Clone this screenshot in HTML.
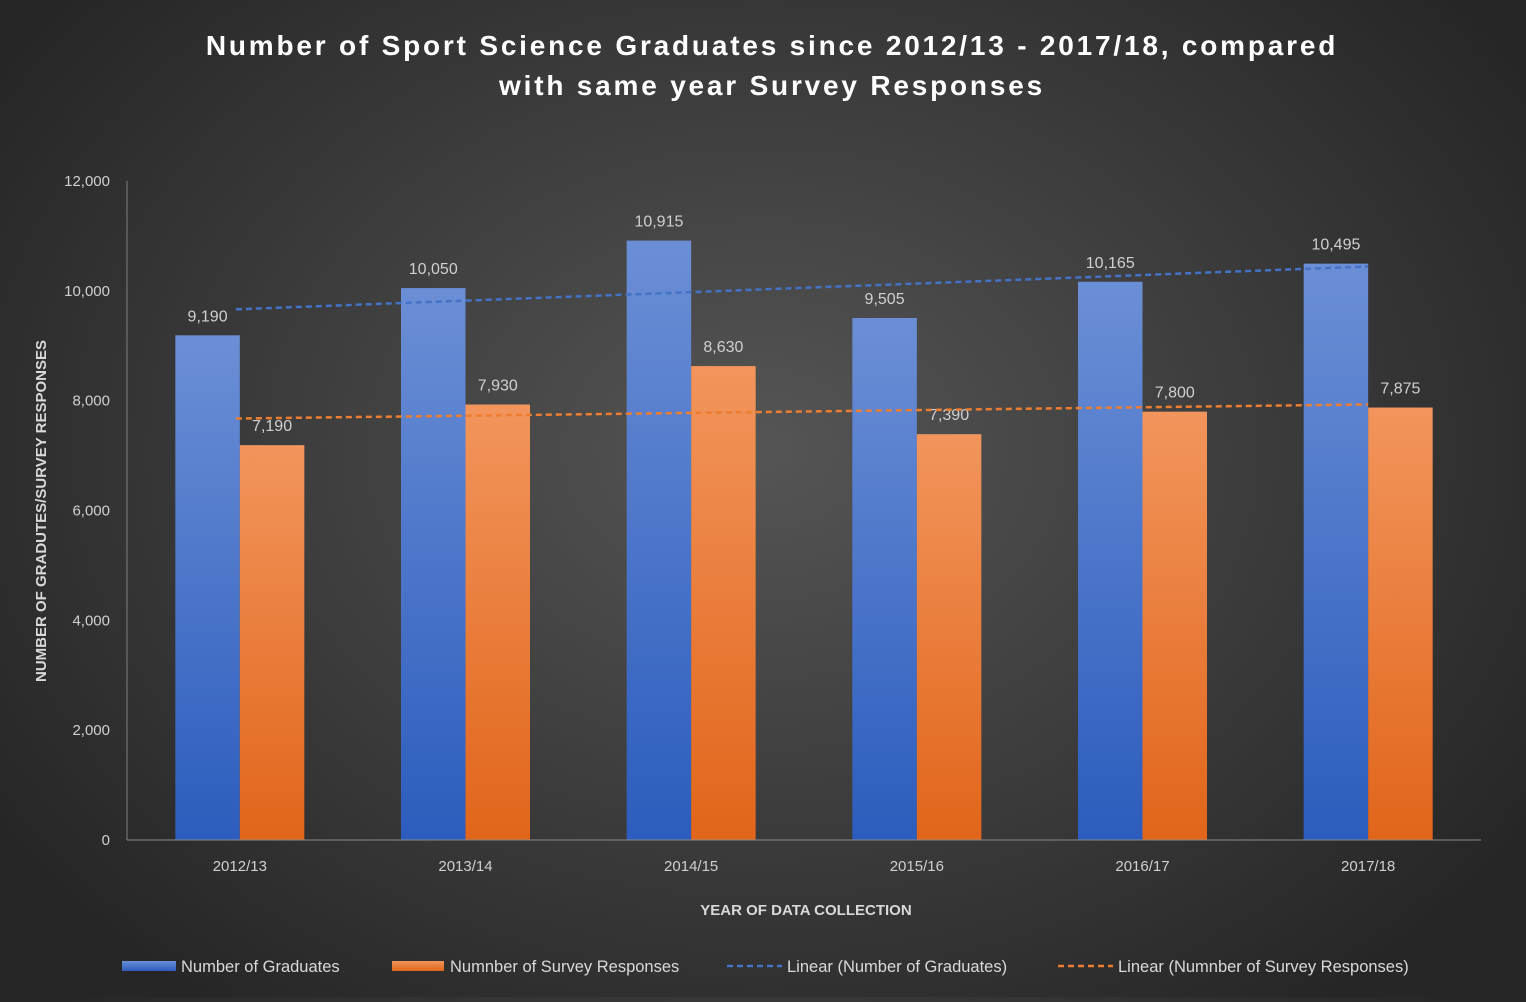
<!DOCTYPE html>
<html><head><meta charset="utf-8"><style>
html,body{margin:0;padding:0;}
body{width:1526px;height:997px;overflow:hidden;background:radial-gradient(ellipse 60% 70% at 50% 45%,#555 0%,#404040 45%,#262626 100%);font-family:"Liberation Sans",sans-serif;}
</style></head><body>
<svg id="chart" width="1526" height="997" xmlns="http://www.w3.org/2000/svg">
<defs>
<linearGradient id="gb" x1="0" y1="0" x2="0" y2="1"><stop offset="0" stop-color="#6b8fd6"/><stop offset="1" stop-color="#2c5cbd"/></linearGradient>
<linearGradient id="go" x1="0" y1="0" x2="0" y2="1"><stop offset="0" stop-color="#f2955c"/><stop offset="1" stop-color="#e1651a"/></linearGradient>
</defs>
<text x="772" y="55" text-anchor="middle" fill="#fff" font-size="28" font-weight="bold" letter-spacing="2.8">Number of Sport Science Graduates since 2012/13 - 2017/18, compared</text>
<text x="772" y="95" text-anchor="middle" fill="#fff" font-size="28" font-weight="bold" letter-spacing="2.8">with same year Survey Responses</text>
<g id="plot"></g>
<text transform="translate(46,511) rotate(-90)" text-anchor="middle" fill="#d9d9d9" font-size="15" font-weight="bold">NUMBER OF GRADUTES/SURVEY RESPONSES</text>
<text x="806" y="915" text-anchor="middle" fill="#d9d9d9" font-size="15" font-weight="bold">YEAR OF DATA COLLECTION</text>
<g font-size="16.5" fill="#d9d9d9">
<rect x="122" y="961" width="54" height="10" fill="url(#gb)"/>
<text x="181" y="972" fill="#d9d9d9">Number of Graduates</text>
<rect x="392" y="961" width="52" height="10" fill="url(#go)"/>
<text x="450" y="972" fill="#d9d9d9">Numnber of Survey Responses</text>
<line x1="727" y1="966" x2="782" y2="966" stroke="#4472c4" stroke-width="2.5" stroke-dasharray="6,4"/>
<text x="787" y="972" fill="#d9d9d9">Linear (Number of Graduates)</text>
<line x1="1058" y1="966" x2="1113" y2="966" stroke="#ed7d31" stroke-width="2.5" stroke-dasharray="6,4"/>
<text x="1118" y="972" fill="#d9d9d9">Linear (Numnber of Survey Responses)</text>
</g>
</svg>
<script>
const categories=["2012/13","2013/14","2014/15","2015/16","2016/17","2017/18"];
const graduates=[9190,10050,10915,9505,10165,10495];
const responses=[7190,7930,8630,7390,7800,7875];
const yTicks=[0,2000,4000,6000,8000,10000,12000];
const NS="http://www.w3.org/2000/svg";
const g=document.getElementById('plot');
const X0=127,X1=1481,Y0=840,Y1=181,YMAX=12000;
const bandW=(X1-X0)/categories.length;
const xc=i=>X0+bandW*(i+0.5);
const y=v=>Y0-(v/YMAX)*(Y0-Y1);
const barW=64.5;
function mk(tag,attrs){const e=document.createElementNS(NS,tag);for(const k in attrs)e.setAttribute(k,attrs[k]);g.appendChild(e);return e;}
function fmt(v){return v.toLocaleString('en-US');}
yTicks.forEach(t=>{
 const e=mk('text',{x:110,y:y(t)+5,'text-anchor':'end',fill:'#d0d0d0','font-size':15});
 e.textContent=fmt(t);
 
 
});
const ax=mk('line',{x1:127,y1:Y1,x2:127,y2:Y0,stroke:'#7f7f7f','stroke-width':1});


categories.forEach((c,i)=>{
 const cx=xc(i);
 const b=mk('rect',{x:cx-barW,y:y(graduates[i]),width:barW,height:Y0-y(graduates[i]),fill:'url(#gb)'});
 
 
 const o=mk('rect',{x:cx,y:y(responses[i]),width:barW,height:Y0-y(responses[i]),fill:'url(#go)'});
 
 
 const l1=mk('text',{x:cx-barW/2,y:y(graduates[i])-14,'text-anchor':'middle',fill:'#d0d0d0','font-size':16});
 l1.textContent=fmt(graduates[i]);
 
 
 const l2=mk('text',{x:cx+barW/2,y:y(responses[i])-14,'text-anchor':'middle',fill:'#d0d0d0','font-size':16});
 l2.textContent=fmt(responses[i]);
 
 
 const xl=mk('text',{x:cx,y:871,'text-anchor':'middle',fill:'#d0d0d0','font-size':15});
 xl.textContent=c;
 
 
});
const xa=mk('line',{x1:X0,y1:Y0,x2:X1,y2:Y0,stroke:'#8a8a8a','stroke-width':1});


function fit(vals){const n=vals.length;const mx=(n-1)/2;const my=vals.reduce((a,b)=>a+b,0)/n;let num=0,den=0;vals.forEach((v,i)=>{num+=(i-mx)*(v-my);den+=(i-mx)*(i-mx);});const s=num/den;return i=>my+s*(i-mx);}
[[graduates,'#4472c4','trendline-graduates'],[responses,'#ed7d31','trendline-responses']].forEach(([vals,col,name])=>{
 const f=fit(vals);const n=vals.length;
 const l=mk('line',{x1:xc(0)-4,y1:y(f(0)),x2:xc(n-1),y2:y(f(n-1)),stroke:col,'stroke-width':2.5,'stroke-dasharray':'6,4'});
 
 
});
</script>
</body></html>
